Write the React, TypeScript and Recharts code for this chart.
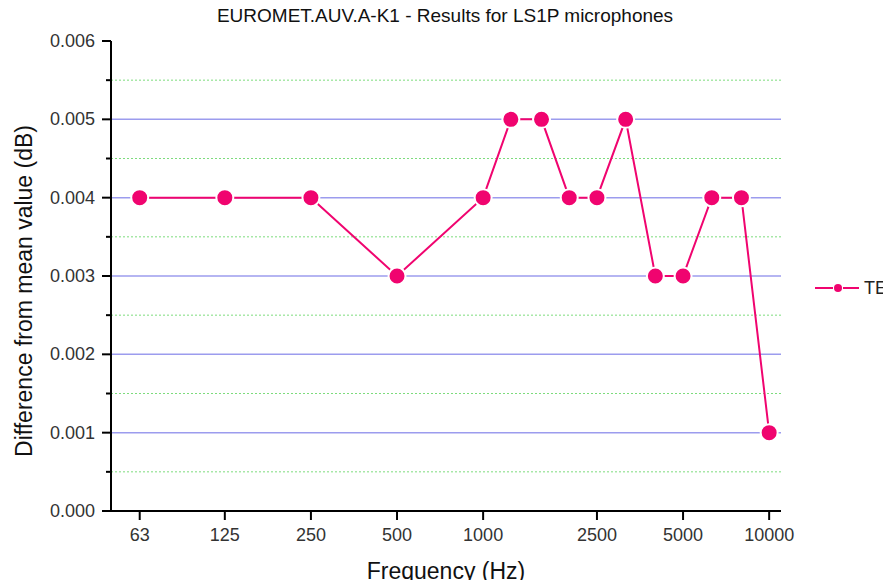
import { CartesianGrid, Legend, Line, LineChart, XAxis, YAxis } from "recharts";

const frequencies = [63, 125, 250, 500, 1000, 1250, 1600, 2000, 2500, 3150, 4000, 5000, 6300, 8000, 10000];
const teValues = [0.004, 0.004, 0.004, 0.003, 0.004, 0.005, 0.005, 0.004, 0.004, 0.005, 0.003, 0.003, 0.004, 0.004, 0.001];
const xTicks = [63, 125, 250, 500, 1000, 2500, 5000, 10000];
const yTicks = [0, 0.0005, 0.001, 0.0015, 0.002, 0.0025, 0.003, 0.0035, 0.004, 0.0045, 0.005, 0.0055, 0.006];
const majorGrid = [0.001, 0.002, 0.003, 0.004, 0.005];
const minorGrid = [0.0005, 0.0015, 0.0025, 0.0035, 0.0045, 0.0055];

const PINK = "#f0046f";
const FONT = "Arial, 'Liberation Sans', sans-serif";

const data = frequencies.map((f, i) => ({ freq: f, TE: teValues[i] }));

// major ticks get a label, the half steps only a short mark
const YTick = (props: any) => {
  const { x, y, payload } = props;
  const v = payload.value;
  const major = Math.round(v * 10000) % 10 === 0;
  return (
    <g>
      <line x1={x - (major ? 9 : 5)} x2={x} y1={y} y2={y} stroke="#000" strokeWidth={2} />
      {major && (
        <text x={x - 16} y={y} textAnchor="end" dominantBaseline="central" fontSize={18} fill="#333" fontFamily={FONT}>
          {v.toFixed(3)}
        </text>
      )}
    </g>
  );
};

const LegendBox = () => (
  <div style={{ display: "flex", alignItems: "center", height: 20, fontFamily: FONT, fontSize: 18, color: "#222" }}>
    <svg width={46} height={20}>
      <line x1={0} x2={18} y1={10} y2={10} stroke={PINK} strokeWidth={2} />
      <line x1={28} x2={44} y1={10} y2={10} stroke={PINK} strokeWidth={2} />
      <circle cx={23} cy={10} r={4} fill={PINK} />
    </svg>
    <span style={{ marginLeft: 3 }}>TE</span>
  </div>
);

export default function App() {
  return (
    <div style={{ marginTop: -8, height: 580, width: 875 }}>
      <LineChart width={883} height={588} data={data} margin={{ top: 41, right: 110, bottom: 8, left: 0 }}>
        <CartesianGrid vertical={false} horizontalValues={majorGrid} stroke="#9c9cee" strokeWidth={1.5} />
        <CartesianGrid vertical={false} horizontalValues={minorGrid} stroke="#7ddc7d" strokeDasharray="2 2" strokeWidth={1} />
        <XAxis
          dataKey="freq"
          type="number"
          scale="log"
          domain={[50, 11000]}
          allowDataOverflow
          ticks={xTicks}
          height={69}
          tickSize={9}
          tickMargin={8}
          axisLine={{ stroke: "#000", strokeWidth: 2 }}
          tickLine={{ stroke: "#000", strokeWidth: 2 }}
          tick={{ fontSize: 18, fill: "#333", fontFamily: FONT }}
        />
        <YAxis
          type="number"
          domain={[0, 0.006]}
          ticks={yTicks}
          interval={0}
          width={103}
          tickSize={0}
          tickMargin={0}
          tickLine={false}
          axisLine={{ stroke: "#000", strokeWidth: 2 }}
          tick={<YTick />}
        />
        <Legend
          layout="vertical"
          align="center"
          verticalAlign="middle"
          content={<LegendBox />}
          wrapperStyle={{ left: 807, top: 278, width: 76 }}
        />
        <Line
          dataKey="TE"
          stroke={PINK}
          strokeWidth={2}
          isAnimationActive={false}
          dot={{ r: 8.5, fill: PINK, stroke: "#fff", strokeWidth: 2 }}
          activeDot={false}
        />
        <text x={437} y={22} textAnchor="middle" fontSize={19} fill="#111" fontFamily={FONT}>
          EUROMET.AUV.A-K1 - Results for LS1P microphones
        </text>
        <text x={438} y={579} textAnchor="middle" fontSize={23} fill="#111" fontFamily={FONT}>
          Frequency (Hz)
        </text>
        <text
          x={16}
          y={291}
          textAnchor="middle"
          dominantBaseline="central"
          fontSize={23}
          fill="#111"
          fontFamily={FONT}
          transform="rotate(-90, 16, 291)"
        >
          Difference from mean value (dB)
        </text>
      </LineChart>
    </div>
  );
}
